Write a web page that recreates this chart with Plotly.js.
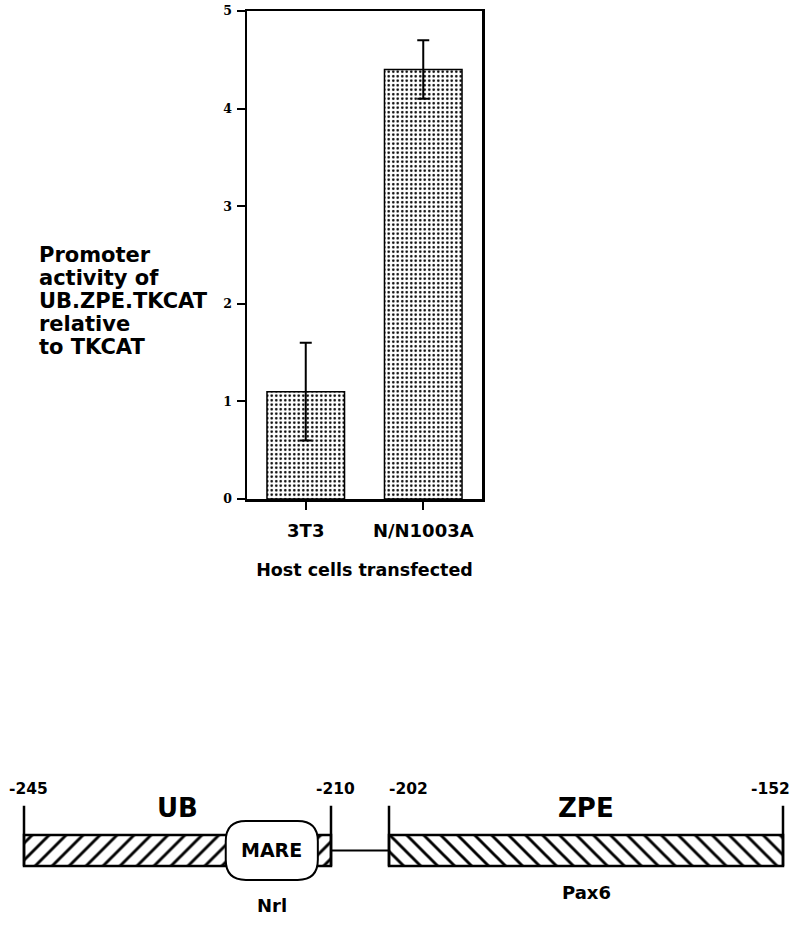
<!DOCTYPE html>
<html>
<head>
<meta charset="utf-8">
<script src="https://cdn.plot.ly/plotly-3.0.1.min.js"></script>
<style>html,body{margin:0;padding:0;background:#fff;}#chart{width:800px;height:925px;}</style>
</head>
<body>
<div id="chart"></div>
<script>
// ---- data ----
const categories = ['3T3', 'N/N1003A'];
const activity = [1.1, 4.4];
const activityErr = [0.5, 0.3];
const yTicks = [0, 1, 2, 3, 4, 5];
const yTitleLines = ['Promoter', 'activity of', 'UB.ZPE.TKCAT', 'relative', 'to TKCAT'];
const xTitle = 'Host cells transfected';

const segNames = ['UB', 'ZPE'];
const segStart = [-245, -202];
const segEnd = [-210, -152];
const mareSite = [-222, -211.5];
const mareLabel = 'MARE';
const factors = ['Nrl', 'Pax6'];

// ---- layout helpers (pixel targets -> paper) ----
const W = 800, H = 925;
const px = v => v / W;
const py = v => 1 - v / H;
const k2 = (331 - 24) / (segEnd[0] - segStart[0]);
const k3 = (783 - 389) / (segEnd[1] - segStart[1]);
const pad = 1.5;
const x2range = [segStart[0] - pad, segEnd[0] + pad];
const x3range = [segStart[1] - pad, segEnd[1] + pad];
const x2dom = [px(24 - pad * k2), px(331 + pad * k2)];
const x3dom = [px(389 - pad * k3), px(783 + pad * k3)];
const y2range = [-2, 2];
const y2dom = [py(912.5), py(788.5)];
const toPaper = (v, r, d) => d[0] + (v - r[0]) / (r[1] - r[0]) * (d[1] - d[0]);

const bold = (size, family) => ({family: family || 'DejaVu Sans', size: size, color: '#000', weight: 'bold'});

const traces = [
  {
    type: 'bar', x: categories, y: activity, width: 0.66,
    marker: {
      color: '#fff',
      line: {color: '#000', width: 1.5},
      pattern: {shape: '.', fgcolor: '#000', bgcolor: '#fff', size: 4.5, solidity: 0.24}
    },
    error_y: {type: 'data', array: activityErr, visible: true, color: '#000', thickness: 2, width: 6},
    hoverinfo: 'skip', showlegend: false
  },
  {
    type: 'bar', orientation: 'h', xaxis: 'x2', yaxis: 'y2',
    y: [0], base: [segStart[0]], x: [segEnd[0] - segStart[0]], width: 1,
    marker: {color: '#fff', line: {color: '#000', width: 2.5},
      pattern: {shape: '/', fgcolor: '#000', bgcolor: '#fff', size: 12, solidity: 0.24}},
    hoverinfo: 'skip', showlegend: false
  },
  {
    type: 'bar', orientation: 'h', xaxis: 'x3', yaxis: 'y2',
    y: [0], base: [segStart[1]], x: [segEnd[1] - segStart[1]], width: 1,
    marker: {color: '#fff', line: {color: '#000', width: 2.5},
      pattern: {shape: '\\', fgcolor: '#000', bgcolor: '#fff', size: 12, solidity: 0.24}},
    hoverinfo: 'skip', showlegend: false
  }
];

const shapes = [];
const axRefs = ['x2', 'x3'];
for (let i = 0; i < segNames.length; i++) {
  [segStart[i], segEnd[i]].forEach(v => shapes.push({
    type: 'line', xref: axRefs[i], yref: 'y2', x0: v, x1: v, y0: -0.5, y1: 1.44,
    line: {color: '#000', width: 2.5}
  }));
}
shapes.push({
  type: 'line', xref: 'paper', yref: 'y2',
  x0: toPaper(segEnd[0], x2range, x2dom), x1: toPaper(segStart[1], x3range, x3dom),
  y0: 0, y1: 0, line: {color: '#000', width: 2}
});
(function () {
  const a = mareSite[0], b = mareSite[1], t = 0.95, bt = -0.95, rx = 2.3, ry = 0.65;
  const path = `M${a + rx},${t} L${b - rx},${t} Q${b},${t} ${b},${t - ry} L${b},${bt + ry} Q${b},${bt} ${b - rx},${bt} ` +
    `L${a + rx},${bt} Q${a},${bt} ${a},${bt + ry} L${a},${t - ry} Q${a},${t} ${a + rx},${t} Z`;
  shapes.push({type: 'path', xref: 'x2', yref: 'y2', path: path, fillcolor: '#fff', line: {color: '#000', width: 2}});
})();

const annotations = [];
// y title lines
const yLineCenters = [255, 278, 301, 324, 347];
yTitleLines.forEach((t, i) => annotations.push({
  text: t, xref: 'paper', yref: 'paper', x: px(37), y: py(yLineCenters[i]),
  xanchor: 'left', yanchor: 'middle', showarrow: false, font: bold(21)
}));
// diagram labels
const posShift = [[4, 'center'], [4, 'center'], [-2, 'left'], [9, 'right']];
let n = 0;
for (let i = 0; i < segNames.length; i++) {
  [segStart[i], segEnd[i]].forEach(v => {
    annotations.push({text: String(v), xref: axRefs[i], yref: 'y2', x: v, y: 1.98,
      xanchor: posShift[n][1], xshift: posShift[n][0], yanchor: 'middle', showarrow: false, font: bold(15.5)});
    n++;
  });
  annotations.push({text: segNames[i], xref: axRefs[i], yref: 'y2', x: (segStart[i] + segEnd[i]) / 2, y: 1.37,
    showarrow: false, font: bold(26)});
}
const mareMid = (mareSite[0] + mareSite[1]) / 2;
annotations.push({text: mareLabel, xref: 'x2', yref: 'y2', x: mareMid, y: 0.03, showarrow: false, font: bold(19)});
annotations.push({text: factors[0], xref: 'x2', yref: 'y2', x: mareMid, y: -1.76, showarrow: false, font: bold(18)});
annotations.push({text: factors[1], xref: 'x3', yref: 'y2', x: (segStart[1] + segEnd[1]) / 2, y: -1.34, showarrow: false, font: bold(18)});

const layout = {
  width: W, height: H,
  margin: {l: 0, r: 0, t: 0, b: 0},
  paper_bgcolor: '#fff', plot_bgcolor: '#fff',
  showlegend: false,
  bargap: 0,
  xaxis: {
    domain: [px(247), px(482)], type: 'category', range: [-0.5, 1.5],
    showline: true, linewidth: 2.5, linecolor: '#000', mirror: true,
    ticks: 'outside', ticklen: 8, tickwidth: 2, tickcolor: '#000',
    tickfont: bold(18), ticklabelstandoff: 6,
    showgrid: false, zeroline: false, fixedrange: true,
    title: {text: xTitle, font: bold(17.5), standoff: 24}
  },
  yaxis: {
    domain: [py(499), py(11)], range: [0, 5],
    tickvals: yTicks, ticktext: yTicks.map(String),
    showline: true, linewidth: 2.5, linecolor: '#000', mirror: true,
    ticks: 'outside', ticklen: 8, tickwidth: 2, tickcolor: '#000',
    tickfont: bold(12.5, 'DejaVu Serif'), ticklabelstandoff: 2,
    showgrid: false, zeroline: false, fixedrange: true
  },
  xaxis2: {domain: x2dom, range: x2range, anchor: 'y2', visible: false, fixedrange: true},
  xaxis3: {domain: x3dom, range: x3range, anchor: 'y2', visible: false, fixedrange: true},
  yaxis2: {domain: y2dom, range: y2range, anchor: 'x2', visible: false, fixedrange: true},
  shapes: shapes,
  annotations: annotations
};

Plotly.newPlot('chart', traces, layout, {displayModeBar: false, staticPlot: true});
</script>
</body>
</html>
